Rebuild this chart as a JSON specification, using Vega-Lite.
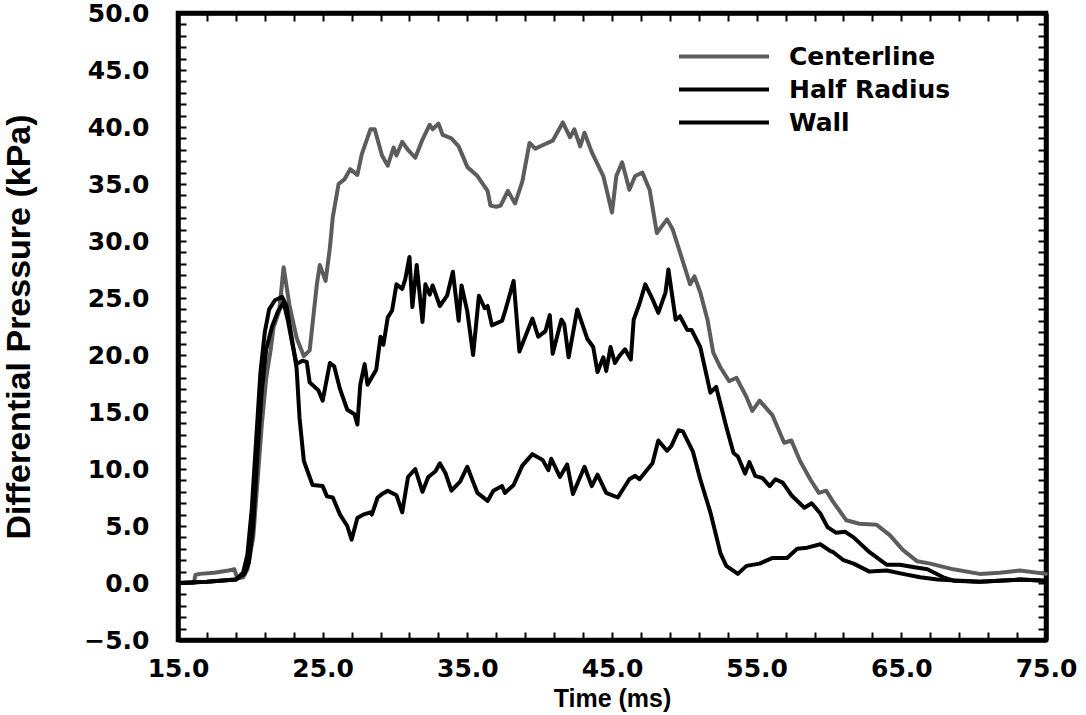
{
  "$schema": "https://vega.github.io/schema/vega-lite/v6.json",
  "autosize": "none",
  "width": 868,
  "height": 627,
  "padding": {"left": 178, "top": 13, "right": 40, "bottom": 75},
  "background": "white",
  "config": {
    "view": {"stroke": "black", "strokeWidth": 4.5},
    "font": "DejaVu Sans"
  },
  "datasets": {
    "pressure": [
      {"s":"Centerline","t":15.0,"v":0},{"s":"Centerline","t":16.1,"v":0},{"s":"Centerline","t":16.2,"v":0.7},{"s":"Centerline","t":16.5,"v":0.8},{"s":"Centerline","t":17.5,"v":0.9},{"s":"Centerline","t":18.5,"v":1.1},{"s":"Centerline","t":18.9,"v":1.2},{"s":"Centerline","t":19.1,"v":0.4},{"s":"Centerline","t":19.5,"v":0.5},{"s":"Centerline","t":19.8,"v":1.2},{"s":"Centerline","t":20.2,"v":4},{"s":"Centerline","t":20.5,"v":9},{"s":"Centerline","t":20.8,"v":14},{"s":"Centerline","t":21.1,"v":18},{"s":"Centerline","t":21.4,"v":20.4},{"s":"Centerline","t":21.6,"v":22.4},{"s":"Centerline","t":22.0,"v":23.9},{"s":"Centerline","t":22.3,"v":27.7},{"s":"Centerline","t":22.7,"v":24.4},{"s":"Centerline","t":23.2,"v":21.5},{"s":"Centerline","t":23.7,"v":19.9},{"s":"Centerline","t":24.1,"v":20.4},{"s":"Centerline","t":24.6,"v":26.2},{"s":"Centerline","t":24.8,"v":27.9},{"s":"Centerline","t":25.2,"v":26.5},{"s":"Centerline","t":25.5,"v":29.4},{"s":"Centerline","t":25.7,"v":32.1},{"s":"Centerline","t":26.1,"v":35.0},{"s":"Centerline","t":26.5,"v":35.4},{"s":"Centerline","t":26.9,"v":36.3},{"s":"Centerline","t":27.4,"v":35.8},{"s":"Centerline","t":27.7,"v":37.6},{"s":"Centerline","t":28.3,"v":39.8},{"s":"Centerline","t":28.6,"v":39.8},{"s":"Centerline","t":29.1,"v":37.5},{"s":"Centerline","t":29.5,"v":36.6},{"s":"Centerline","t":29.9,"v":38.2},{"s":"Centerline","t":30.1,"v":37.5},{"s":"Centerline","t":30.5,"v":38.7},{"s":"Centerline","t":30.9,"v":38.0},{"s":"Centerline","t":31.4,"v":37.3},{"s":"Centerline","t":31.9,"v":38.9},{"s":"Centerline","t":32.4,"v":40.2},{"s":"Centerline","t":32.6,"v":39.8},{"s":"Centerline","t":33.0,"v":40.3},{"s":"Centerline","t":33.3,"v":39.3},{"s":"Centerline","t":33.9,"v":39.0},{"s":"Centerline","t":34.4,"v":38.3},{"s":"Centerline","t":35.0,"v":36.5},{"s":"Centerline","t":35.7,"v":35.7},{"s":"Centerline","t":36.4,"v":34.4},{"s":"Centerline","t":36.6,"v":33.1},{"s":"Centerline","t":37.0,"v":33.0},{"s":"Centerline","t":37.3,"v":33.1},{"s":"Centerline","t":37.8,"v":34.4},{"s":"Centerline","t":38.3,"v":33.3},{"s":"Centerline","t":38.8,"v":35.2},{"s":"Centerline","t":39.3,"v":38.6},{"s":"Centerline","t":39.7,"v":38.1},{"s":"Centerline","t":40.2,"v":38.4},{"s":"Centerline","t":40.9,"v":38.8},{"s":"Centerline","t":41.6,"v":40.4},{"s":"Centerline","t":42.1,"v":39.1},{"s":"Centerline","t":42.4,"v":39.8},{"s":"Centerline","t":42.8,"v":38.3},{"s":"Centerline","t":43.1,"v":39.5},{"s":"Centerline","t":43.6,"v":37.8},{"s":"Centerline","t":44.4,"v":35.7},{"s":"Centerline","t":45.0,"v":32.5},{"s":"Centerline","t":45.3,"v":35.7},{"s":"Centerline","t":45.7,"v":36.9},{"s":"Centerline","t":46.2,"v":34.5},{"s":"Centerline","t":46.6,"v":35.7},{"s":"Centerline","t":47.1,"v":36.0},{"s":"Centerline","t":47.6,"v":34.5},{"s":"Centerline","t":48.1,"v":30.7},{"s":"Centerline","t":48.8,"v":31.9},{"s":"Centerline","t":49.2,"v":31.0},{"s":"Centerline","t":49.7,"v":29.0},{"s":"Centerline","t":50.4,"v":26.2},{"s":"Centerline","t":50.7,"v":26.9},{"s":"Centerline","t":51.1,"v":25.5},{"s":"Centerline","t":51.6,"v":23.1},{"s":"Centerline","t":52.0,"v":20.2},{"s":"Centerline","t":52.5,"v":18.9},{"s":"Centerline","t":53.1,"v":17.7},{"s":"Centerline","t":53.6,"v":18.0},{"s":"Centerline","t":54.3,"v":16.3},{"s":"Centerline","t":54.7,"v":15.1},{"s":"Centerline","t":55.2,"v":16.0},{"s":"Centerline","t":56.1,"v":14.7},{"s":"Centerline","t":56.9,"v":12.3},{"s":"Centerline","t":57.4,"v":12.5},{"s":"Centerline","t":58.0,"v":10.7},{"s":"Centerline","t":58.7,"v":9.1},{"s":"Centerline","t":59.3,"v":7.9},{"s":"Centerline","t":59.8,"v":8.1},{"s":"Centerline","t":60.3,"v":7.1},{"s":"Centerline","t":61.2,"v":5.5},{"s":"Centerline","t":62.1,"v":5.2},{"s":"Centerline","t":63.3,"v":5.1},{"s":"Centerline","t":64.2,"v":4.2},{"s":"Centerline","t":65.1,"v":2.9},{"s":"Centerline","t":66.1,"v":1.9},{"s":"Centerline","t":67.0,"v":1.7},{"s":"Centerline","t":68.6,"v":1.2},{"s":"Centerline","t":70.4,"v":0.8},{"s":"Centerline","t":71.8,"v":0.9},{"s":"Centerline","t":73.2,"v":1.1},{"s":"Centerline","t":75.0,"v":0.8},

      {"s":"Half Radius","t":15.0,"v":0},{"s":"Half Radius","t":17.0,"v":0.1},{"s":"Half Radius","t":19.0,"v":0.3},{"s":"Half Radius","t":19.6,"v":0.8},{"s":"Half Radius","t":19.9,"v":1.8},{"s":"Half Radius","t":20.2,"v":5.0},{"s":"Half Radius","t":20.5,"v":11.5},{"s":"Half Radius","t":20.8,"v":17.0},{"s":"Half Radius","t":21.1,"v":20.5},{"s":"Half Radius","t":21.5,"v":22.5},{"s":"Half Radius","t":21.9,"v":23.8},{"s":"Half Radius","t":22.3,"v":24.6},{"s":"Half Radius","t":22.6,"v":23.0},{"s":"Half Radius","t":22.9,"v":21.0},{"s":"Half Radius","t":23.2,"v":19.2},{"s":"Half Radius","t":23.6,"v":19.5},{"s":"Half Radius","t":23.9,"v":19.4},{"s":"Half Radius","t":24.1,"v":17.6},{"s":"Half Radius","t":24.7,"v":16.9},{"s":"Half Radius","t":25.0,"v":16.0},{"s":"Half Radius","t":25.5,"v":19.3},{"s":"Half Radius","t":25.8,"v":19.0},{"s":"Half Radius","t":26.2,"v":17.0},{"s":"Half Radius","t":26.7,"v":15.2},{"s":"Half Radius","t":27.2,"v":14.8},{"s":"Half Radius","t":27.4,"v":13.9},{"s":"Half Radius","t":27.6,"v":17.4},{"s":"Half Radius","t":27.9,"v":19.2},{"s":"Half Radius","t":28.1,"v":17.4},{"s":"Half Radius","t":28.7,"v":18.7},{"s":"Half Radius","t":29.0,"v":21.6},{"s":"Half Radius","t":29.2,"v":20.9},{"s":"Half Radius","t":29.5,"v":23.3},{"s":"Half Radius","t":29.8,"v":23.9},{"s":"Half Radius","t":30.1,"v":26.2},{"s":"Half Radius","t":30.5,"v":25.8},{"s":"Half Radius","t":30.7,"v":26.6},{"s":"Half Radius","t":31.0,"v":28.6},{"s":"Half Radius","t":31.2,"v":24.2},{"s":"Half Radius","t":31.5,"v":27.9},{"s":"Half Radius","t":31.9,"v":22.9},{"s":"Half Radius","t":32.1,"v":26.2},{"s":"Half Radius","t":32.4,"v":25.3},{"s":"Half Radius","t":32.6,"v":26.1},{"s":"Half Radius","t":33.1,"v":24.3},{"s":"Half Radius","t":33.6,"v":25.2},{"s":"Half Radius","t":34.0,"v":27.3},{"s":"Half Radius","t":34.4,"v":23.0},{"s":"Half Radius","t":34.6,"v":26.1},{"s":"Half Radius","t":35.0,"v":23.8},{"s":"Half Radius","t":35.4,"v":20.0},{"s":"Half Radius","t":35.8,"v":25.2},{"s":"Half Radius","t":36.2,"v":24.1},{"s":"Half Radius","t":36.4,"v":24.3},{"s":"Half Radius","t":36.7,"v":22.6},{"s":"Half Radius","t":37.4,"v":23.0},{"s":"Half Radius","t":37.6,"v":23.8},{"s":"Half Radius","t":38.2,"v":26.5},{"s":"Half Radius","t":38.6,"v":20.3},{"s":"Half Radius","t":39.5,"v":23.2},{"s":"Half Radius","t":39.9,"v":21.6},{"s":"Half Radius","t":40.4,"v":22.1},{"s":"Half Radius","t":40.7,"v":23.5},{"s":"Half Radius","t":40.9,"v":20.1},{"s":"Half Radius","t":41.5,"v":23.1},{"s":"Half Radius","t":41.7,"v":22.7},{"s":"Half Radius","t":42.0,"v":19.8},{"s":"Half Radius","t":42.6,"v":24.0},{"s":"Half Radius","t":43.3,"v":21.4},{"s":"Half Radius","t":43.7,"v":20.7},{"s":"Half Radius","t":44.0,"v":18.5},{"s":"Half Radius","t":44.4,"v":19.8},{"s":"Half Radius","t":44.6,"v":18.6},{"s":"Half Radius","t":44.9,"v":20.7},{"s":"Half Radius","t":45.2,"v":19.3},{"s":"Half Radius","t":45.5,"v":19.9},{"s":"Half Radius","t":45.9,"v":20.5},{"s":"Half Radius","t":46.3,"v":19.6},{"s":"Half Radius","t":46.5,"v":23.1},{"s":"Half Radius","t":46.9,"v":24.5},{"s":"Half Radius","t":47.3,"v":26.2},{"s":"Half Radius","t":47.8,"v":24.9},{"s":"Half Radius","t":48.2,"v":23.7},{"s":"Half Radius","t":48.7,"v":25.5},{"s":"Half Radius","t":48.9,"v":27.5},{"s":"Half Radius","t":49.4,"v":23.1},{"s":"Half Radius","t":49.7,"v":23.4},{"s":"Half Radius","t":50.2,"v":22.2},{"s":"Half Radius","t":50.5,"v":22.2},{"s":"Half Radius","t":51.1,"v":20.7},{"s":"Half Radius","t":51.8,"v":16.7},{"s":"Half Radius","t":52.2,"v":17.2},{"s":"Half Radius","t":52.9,"v":13.7},{"s":"Half Radius","t":53.4,"v":11.4},{"s":"Half Radius","t":53.7,"v":11.1},{"s":"Half Radius","t":54.2,"v":9.6},{"s":"Half Radius","t":54.5,"v":10.6},{"s":"Half Radius","t":54.9,"v":9.4},{"s":"Half Radius","t":55.4,"v":9.2},{"s":"Half Radius","t":55.9,"v":8.5},{"s":"Half Radius","t":56.3,"v":9.1},{"s":"Half Radius","t":56.8,"v":8.8},{"s":"Half Radius","t":57.4,"v":7.7},{"s":"Half Radius","t":58.3,"v":6.6},{"s":"Half Radius","t":58.8,"v":7.0},{"s":"Half Radius","t":59.4,"v":6.1},{"s":"Half Radius","t":59.9,"v":4.9},{"s":"Half Radius","t":60.5,"v":4.4},{"s":"Half Radius","t":61.1,"v":4.5},{"s":"Half Radius","t":61.7,"v":4.0},{"s":"Half Radius","t":62.8,"v":2.7},{"s":"Half Radius","t":64.0,"v":1.6},{"s":"Half Radius","t":64.9,"v":1.6},{"s":"Half Radius","t":65.8,"v":1.4},{"s":"Half Radius","t":66.8,"v":1.2},{"s":"Half Radius","t":67.9,"v":0.5},{"s":"Half Radius","t":68.6,"v":0.2},{"s":"Half Radius","t":70.4,"v":0.1},{"s":"Half Radius","t":73.2,"v":0.3},{"s":"Half Radius","t":75.0,"v":0.2},

      {"s":"Wall","t":15.0,"v":0},{"s":"Wall","t":17.0,"v":0.1},{"s":"Wall","t":19.0,"v":0.3},{"s":"Wall","t":19.5,"v":0.9},{"s":"Wall","t":19.8,"v":2.5},{"s":"Wall","t":20.1,"v":6.5},{"s":"Wall","t":20.4,"v":12.5},{"s":"Wall","t":20.7,"v":18.5},{"s":"Wall","t":21.0,"v":22.0},{"s":"Wall","t":21.3,"v":24.0},{"s":"Wall","t":21.7,"v":24.8},{"s":"Wall","t":22.2,"v":25.1},{"s":"Wall","t":22.5,"v":24.3},{"s":"Wall","t":22.8,"v":22.0},{"s":"Wall","t":23.2,"v":18.8},{"s":"Wall","t":23.4,"v":14.5},{"s":"Wall","t":23.7,"v":10.7},{"s":"Wall","t":24.3,"v":8.6},{"s":"Wall","t":25.0,"v":8.5},{"s":"Wall","t":25.3,"v":7.6},{"s":"Wall","t":25.7,"v":7.5},{"s":"Wall","t":26.2,"v":6.0},{"s":"Wall","t":26.7,"v":5.0},{"s":"Wall","t":27.0,"v":3.8},{"s":"Wall","t":27.4,"v":5.7},{"s":"Wall","t":27.8,"v":6.0},{"s":"Wall","t":28.3,"v":6.2},{"s":"Wall","t":28.4,"v":6.0},{"s":"Wall","t":28.8,"v":7.5},{"s":"Wall","t":29.1,"v":7.8},{"s":"Wall","t":29.5,"v":8.1},{"s":"Wall","t":30.1,"v":7.7},{"s":"Wall","t":30.5,"v":6.2},{"s":"Wall","t":30.9,"v":9.3},{"s":"Wall","t":31.4,"v":10.0},{"s":"Wall","t":31.9,"v":8.0},{"s":"Wall","t":32.3,"v":9.3},{"s":"Wall","t":32.8,"v":9.8},{"s":"Wall","t":33.1,"v":10.5},{"s":"Wall","t":33.5,"v":9.6},{"s":"Wall","t":33.9,"v":8.1},{"s":"Wall","t":34.5,"v":8.9},{"s":"Wall","t":35.0,"v":10.2},{"s":"Wall","t":35.3,"v":9.2},{"s":"Wall","t":35.7,"v":7.9},{"s":"Wall","t":36.4,"v":7.2},{"s":"Wall","t":36.8,"v":8.1},{"s":"Wall","t":37.4,"v":8.5},{"s":"Wall","t":37.6,"v":7.9},{"s":"Wall","t":38.2,"v":8.6},{"s":"Wall","t":38.8,"v":10.3},{"s":"Wall","t":39.5,"v":11.3},{"s":"Wall","t":40.2,"v":10.8},{"s":"Wall","t":40.6,"v":9.9},{"s":"Wall","t":40.8,"v":10.9},{"s":"Wall","t":41.4,"v":9.3},{"s":"Wall","t":41.9,"v":10.4},{"s":"Wall","t":42.3,"v":7.8},{"s":"Wall","t":43.1,"v":10.2},{"s":"Wall","t":43.6,"v":8.5},{"s":"Wall","t":44.0,"v":9.5},{"s":"Wall","t":44.6,"v":7.9},{"s":"Wall","t":45.4,"v":7.5},{"s":"Wall","t":46.2,"v":9.1},{"s":"Wall","t":46.6,"v":9.4},{"s":"Wall","t":46.9,"v":9.1},{"s":"Wall","t":47.8,"v":10.5},{"s":"Wall","t":48.2,"v":12.5},{"s":"Wall","t":48.8,"v":11.6},{"s":"Wall","t":49.1,"v":12.0},{"s":"Wall","t":49.6,"v":13.4},{"s":"Wall","t":49.9,"v":13.3},{"s":"Wall","t":50.6,"v":11.5},{"s":"Wall","t":51.1,"v":9.1},{"s":"Wall","t":51.8,"v":6.2},{"s":"Wall","t":52.5,"v":2.6},{"s":"Wall","t":52.9,"v":1.5},{"s":"Wall","t":53.7,"v":0.8},{"s":"Wall","t":54.3,"v":1.5},{"s":"Wall","t":55.2,"v":1.7},{"s":"Wall","t":56.1,"v":2.2},{"s":"Wall","t":57.1,"v":2.2},{"s":"Wall","t":57.8,"v":3.0},{"s":"Wall","t":58.5,"v":3.1},{"s":"Wall","t":59.4,"v":3.4},{"s":"Wall","t":60.1,"v":2.8},{"s":"Wall","t":60.3,"v":2.7},{"s":"Wall","t":61.0,"v":2.0},{"s":"Wall","t":61.7,"v":1.7},{"s":"Wall","t":62.8,"v":1.0},{"s":"Wall","t":64.0,"v":1.1},{"s":"Wall","t":65.1,"v":0.8},{"s":"Wall","t":66.3,"v":0.5},{"s":"Wall","t":67.5,"v":0.3},{"s":"Wall","t":70.4,"v":0.1},{"s":"Wall","t":73.2,"v":0.3},{"s":"Wall","t":75.0,"v":0.2}
    ]
  },
  "data": {"name": "pressure"},
  "resolve": {"axis": {"x": "independent", "y": "independent"}},
  "layer": [
    {
      "mark": {"type": "line", "strokeJoin": "round", "strokeCap": "round", "strokeWidth": 4},
      "encoding": {
        "x": {
          "field": "t", "type": "quantitative",
          "scale": {"domain": [15, 75], "nice": false, "zero": false},
          "axis": {
            "orient": "bottom",
            "values": [15,17,19,21,23,25,27,29,31,33,35,37,39,41,43,45,47,49,51,53,55,57,59,61,63,65,67,69,71,73,75],
            "labelExpr": "datum.value % 10 === 5 ? format(datum.value, '.1f') : ''",
            "grid": false, "tickSize": -8, "tickWidth": 2, "tickColor": "black",
            "domainColor": "black", "domainWidth": 4.5,
            "labelPadding": 24, "labelFont": "DejaVu Sans", "labelFontSize": 25, "labelFontWeight": "bold", "labelColor": "black",
            "labelFlush": false, "labelOverlap": false,
            "title": "Time (ms)", "titleFont": "Liberation Sans", "titleFontSize": 25, "titleFontWeight": "bold", "titleColor": "black", "titlePadding": 5
          }
        },
        "y": {
          "field": "v", "type": "quantitative",
          "scale": {"domain": [-5, 50], "nice": false, "zero": false},
          "axis": {
            "orient": "left",
            "values": [-5,-4,-3,-2,-1,0,1,2,3,4,5,6,7,8,9,10,11,12,13,14,15,16,17,18,19,20,21,22,23,24,25,26,27,28,29,30,31,32,33,34,35,36,37,38,39,40,41,42,43,44,45,46,47,48,49,50],
            "labelExpr": "datum.value % 5 === 0 ? format(datum.value, '.1f') : ''",
            "grid": false, "tickSize": -8, "tickWidth": 2, "tickColor": "black",
            "domainColor": "black", "domainWidth": 4.5,
            "labelPadding": 37, "labelFont": "DejaVu Sans", "labelFontSize": 25, "labelFontWeight": "bold", "labelColor": "black",
            "labelFlush": false, "labelOverlap": false,
            "title": "Differential Pressure (kPa)", "titleFont": "Liberation Sans", "titleFontSize": 34, "titleFontWeight": "bold", "titleColor": "black", "titlePadding": 47
          }
        },
        "color": {
          "field": "s", "type": "nominal",
          "scale": {"domain": ["Centerline", "Half Radius", "Wall"], "range": ["#5c5c5c", "#000000", "#000000"]},
          "legend": {
            "orient": "none", "legendX": 499, "legendY": 31, "title": null, "padding": 0,
            "symbolType": "stroke", "symbolSize": 8100, "symbolStrokeWidth": 4, "clipHeight": 25, "rowPadding": 7, "labelOffset": 18, "labelLimit": 0,
            "labelFont": "DejaVu Sans", "labelFontSize": 25, "labelFontWeight": "bold", "labelColor": "black"
          }
        }
      }
    },
    {
      "mark": {"type": "point", "opacity": 0},
      "encoding": {
        "x": {
          "field": "t", "type": "quantitative",
          "axis": {
            "orient": "top",
            "values": [15,17,19,21,23,25,27,29,31,33,35,37,39,41,43,45,47,49,51,53,55,57,59,61,63,65,67,69,71,73,75],
            "labels": false, "title": null, "grid": false,
            "tickSize": -8, "tickWidth": 2, "tickColor": "black",
            "domainColor": "black", "domainWidth": 4.5
          }
        },
        "y": {
          "field": "v", "type": "quantitative",
          "axis": {
            "orient": "right",
            "values": [-5,-4,-3,-2,-1,0,1,2,3,4,5,6,7,8,9,10,11,12,13,14,15,16,17,18,19,20,21,22,23,24,25,26,27,28,29,30,31,32,33,34,35,36,37,38,39,40,41,42,43,44,45,46,47,48,49,50],
            "labels": false, "title": null, "grid": false,
            "tickSize": -8, "tickWidth": 2, "tickColor": "black",
            "domainColor": "black", "domainWidth": 4.5
          }
        }
      }
    }
  ]
}
